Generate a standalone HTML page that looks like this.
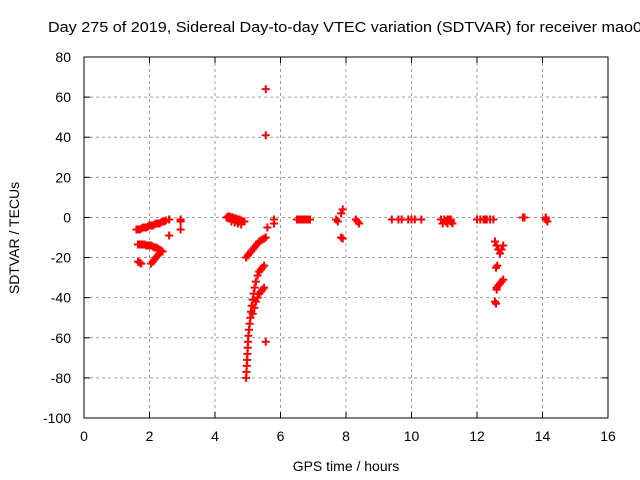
<!DOCTYPE html>
<html><head><meta charset="utf-8"><style>
body{margin:0;background:#fff;overflow:hidden}
svg{display:block;font-family:"Liberation Sans",sans-serif}
</style></head><body>
<svg id="chart" width="640" height="480" viewBox="0 0 640 480">
<rect width="640" height="480" fill="#fff"/>
<text x="48" y="32" font-size="15" textLength="594" lengthAdjust="spacingAndGlyphs" fill="#000" style="white-space:pre">Day 275 of 2019, Sidereal Day-to-day VTEC variation (SDTVAR) for receiver mao0</text>
<g id="grid"></g><g id="ticks"></g><g id="marks"></g>
<rect x="84" y="57" width="524" height="361" fill="none" stroke="#000" stroke-width="1"/>
<text x="346" y="471" font-size="14" text-anchor="middle">GPS time / hours</text>
<text transform="translate(19,238) rotate(-90)" font-size="14" text-anchor="middle">SDTVAR / TECUs</text>
</svg>
<script>
const xTicks=[0,2,4,6,8,10,12,14,16];
const yTicks=[80,60,40,20,0,-20,-40,-60,-80,-100];
const ptX=[1.6,1.65,1.7,1.75,1.8,1.85,1.9,1.95,2.0,2.05,2.1,2.15,2.2,2.25,2.3,2.35,2.4,2.45,2.5,2.6,
1.65,1.7,1.75,1.8,1.85,1.9,1.95,2.0,2.05,2.1,2.15,2.2,2.25,2.3,2.35,2.4,
1.65,1.7,1.75,2.05,2.1,2.15,2.2,2.25,2.3,2.35,
2.6,2.6,2.95,2.95,2.95,
4.35,4.4,4.45,4.5,4.55,4.6,4.65,4.7,4.75,4.8,4.85,4.9,4.5,4.6,4.7,4.8,
4.95,5.0,5.05,5.1,5.15,5.2,5.25,5.3,5.35,5.4,5.45,5.5,5.55,
4.95,4.96,4.97,4.98,4.99,5.0,5.01,5.02,5.04,5.06,5.08,5.1,5.12,5.15,5.18,5.21,5.25,5.3,5.35,5.4,5.45,5.5,
5.15,5.2,5.25,5.3,5.35,5.4,5.45,5.5,
5.55,5.55,5.55,5.6,5.8,5.8,
6.5,6.55,6.6,6.65,6.7,6.75,6.8,6.85,6.9,
7.7,7.75,7.85,7.9,7.85,7.9,8.3,8.35,8.4,
9.4,9.6,9.7,9.9,10.0,10.1,10.3,
10.9,10.95,11.0,11.05,11.1,11.15,11.2,11.25,11.1,11.2,
12.0,12.1,12.2,12.25,12.3,12.4,12.5,
12.55,12.6,12.65,12.7,12.75,12.8,12.58,12.62,12.6,12.65,12.7,12.75,12.8,12.6,12.55,12.58,
13.4,13.45,14.1,14.15,14.1];
const ptY=[-6,-6,-6,-5.5,-5,-5,-5,-4.5,-4,-4,-4,-3.5,-3,-3,-3,-2.5,-2,-2,-1.5,-1,
-13.5,-13.5,-13.5,-13.5,-13.5,-14,-14,-14,-14,-14.5,-15,-15,-15.5,-16,-16.5,-17,
-22,-22.5,-23,-23,-22,-21,-20,-19,-18,-17,
-9,-1,-1,-2,-6,
0,0.5,0.5,0,0,-0.5,-0.5,-1,-1,-1.5,-2,-2,-2,-2.5,-3,-3.5,
-20,-19,-18,-17,-16,-15,-14,-13,-12,-11.5,-11,-10.5,-10,
-80,-77,-74,-71,-68,-65,-62,-59,-56,-53,-50,-47,-44,-41,-38,-35,-32,-29,-27,-26,-25,-24,
-48,-45,-42,-40,-38,-37,-36,-35,
64,41,-62,-5,-1,-3,
-1,-1,-1,-1,-1,-1,-1,-1,-1,
-1,-2,2,4,-10,-10.5,-1,-2,-3,
-1,-1,-1,-1,-1,-1,-1,
-1,-3,-1,-2,-3,-1,-2,-3,-1,-1,
-1,-1,-1,-1,-1,-1,-1,
-12,-14,-16,-18,-16,-14,-25,-24,-35,-34,-33,-32,-31,-36,-42,-43,
0,0,-1,-2,0];
const X=v=>84+(v-0)*524/16, Y=v=>57+(80-v)*361/180;
const NS='http://www.w3.org/2000/svg';
const grid=document.getElementById('grid'),ticks=document.getElementById('ticks'),marks=document.getElementById('marks');
function mk(tag,attrs,parent){const e=document.createElementNS(NS,tag);for(const k in attrs)e.setAttribute(k,attrs[k]);parent.appendChild(e);return e;}
xTicks.forEach(t=>{const x=X(t);
 if(t>0&&t<16){const g=mk('line',{x1:x,y1:57,x2:x,y2:418,stroke:'#a0a0a0','stroke-dasharray':'3,3'},grid);
 
 }
 mk('line',{x1:x,y1:418,x2:x,y2:412,stroke:'#000'},ticks);mk('line',{x1:x,y1:57,x2:x,y2:63,stroke:'#000'},ticks);
 const l=mk('text',{x:x,y:441,'font-size':14,'text-anchor':'middle'},ticks);l.textContent=t;
 
 });
yTicks.forEach(t=>{const y=Y(t);
 if(t<80&&t>-100){const g=mk('line',{x1:84,y1:y,x2:608,y2:y,stroke:'#a0a0a0','stroke-dasharray':'3,3'},grid);
 
 }
 mk('line',{x1:84,y1:y,x2:90,y2:y,stroke:'#000'},ticks);mk('line',{x1:608,y1:y,x2:602,y2:y,stroke:'#000'},ticks);
 const l=mk('text',{x:71,y:y+5,'font-size':14,'text-anchor':'end'},ticks);l.textContent=t;
 
 });
ptX.forEach((v,i)=>{const x=X(v),y=Y(ptY[i]);
 const p=mk('path',{d:`M${x-4},${y}H${x+4}M${x},${y-4}V${y+4}`,stroke:'#ff0000','stroke-width':2,fill:'none'},marks);
 
 });
</script>
</body></html>
